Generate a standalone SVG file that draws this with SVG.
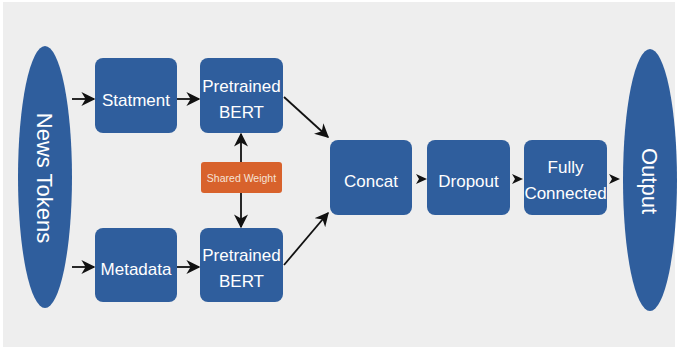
<svg xmlns="http://www.w3.org/2000/svg" width="678" height="351" viewBox="0 0 678 351">
<style>
.n{fill:#2f5e9d}
.t{fill:#ffffff;font-family:"Liberation Sans",Arial,sans-serif;font-size:17px;text-anchor:middle}
.big{font-size:22px}
.c{stroke:#111;stroke-width:1.8;fill:none}
</style>
<defs>
<marker id="a" viewBox="0 0 10 10" refX="9" refY="5" markerWidth="5" markerHeight="5" markerUnits="userSpaceOnUse" orient="auto">
<path d="M0,0 L10,5 L0,10 L3,5 Z" fill="#111"/>
</marker>
<marker id="b" viewBox="0 0 10 10" refX="9" refY="5" markerWidth="14" markerHeight="14" markerUnits="userSpaceOnUse" orient="auto">
<path d="M0,0 L10,5 L0,10 L3,5 Z" fill="#111"/>
</marker>
</defs>
<rect width="678" height="351" fill="#ffffff"/>
<rect x="3" y="2" width="672" height="345" fill="#eeeeee"/>
<g id="connectors">
<line class="c" x1="72" y1="99" x2="94" y2="99" marker-end="url(#b)"/>
<line class="c" x1="72" y1="267" x2="94" y2="267" marker-end="url(#b)"/>
<line class="c" x1="177" y1="99" x2="199" y2="99" marker-end="url(#b)"/>
<line class="c" x1="177" y1="267" x2="199" y2="267" marker-end="url(#b)"/>
<line class="c" x1="241" y1="162" x2="241" y2="134" marker-end="url(#b)"/>
<line class="c" x1="241" y1="193" x2="241" y2="227" marker-end="url(#b)"/>
<line class="c" x1="284" y1="97" x2="328" y2="137" marker-end="url(#b)"/>
<line class="c" x1="284" y1="265" x2="328" y2="213" marker-end="url(#b)"/>
<path d="M416,174 L427,179 L416,184 L419,179 Z" fill="#111"/>
<path d="M512,174 L523,179 L512,184 L515,179 Z" fill="#111"/>
<path d="M609,174 L620,179 L609,184 L612,179 Z" fill="#111"/>
</g>
<g id="news-tokens">
<ellipse class="n" cx="45" cy="177" rx="27" ry="131"/>
<text class="t big" transform="translate(45,178) rotate(90)" y="8">News Tokens</text>
</g>
<g id="statment">
<rect class="n" x="95" y="58" width="82" height="75" rx="8"/>
<text class="t" x="136" y="106">Statment</text>
</g>
<g id="bert-top">
<rect class="n" x="200" y="58" width="83" height="75" rx="8"/>
<text class="t" x="241.5" y="92">Pretrained</text>
<text class="t" x="241.5" y="118">BERT</text>
</g>
<g id="shared-weight">
<rect x="201" y="162" width="81" height="31" rx="3" fill="#d8622c"/>
<text x="241.5" y="181.5" fill="#f6e3d6" font-family="'Liberation Sans',Arial,sans-serif" font-size="10.5" text-anchor="middle">Shared Weight</text>
</g>
<g id="metadata">
<rect class="n" x="95" y="228" width="82" height="74" rx="8"/>
<text class="t" x="136" y="275">Metadata</text>
</g>
<g id="bert-bottom">
<rect class="n" x="200" y="228" width="83" height="74" rx="8"/>
<text class="t" x="241.5" y="261">Pretrained</text>
<text class="t" x="241.5" y="287">BERT</text>
</g>
<g id="concat">
<rect class="n" x="330" y="140" width="82" height="75" rx="8"/>
<text class="t" x="371" y="187">Concat</text>
</g>
<g id="dropout">
<rect class="n" x="427" y="140" width="83" height="75" rx="8"/>
<text class="t" x="468.5" y="187">Dropout</text>
</g>
<g id="fully-connected">
<rect class="n" x="524" y="140" width="83" height="75" rx="8"/>
<text class="t" x="565.5" y="173" font-size="16">Fully</text>
<text class="t" x="565.5" y="199" font-size="16">Connected</text>
</g>
<g id="output">
<ellipse class="n" cx="650" cy="180" rx="27" ry="131"/>
<text class="t big" transform="translate(650,181) rotate(90)" y="8">Output</text>
</g>
</svg>
